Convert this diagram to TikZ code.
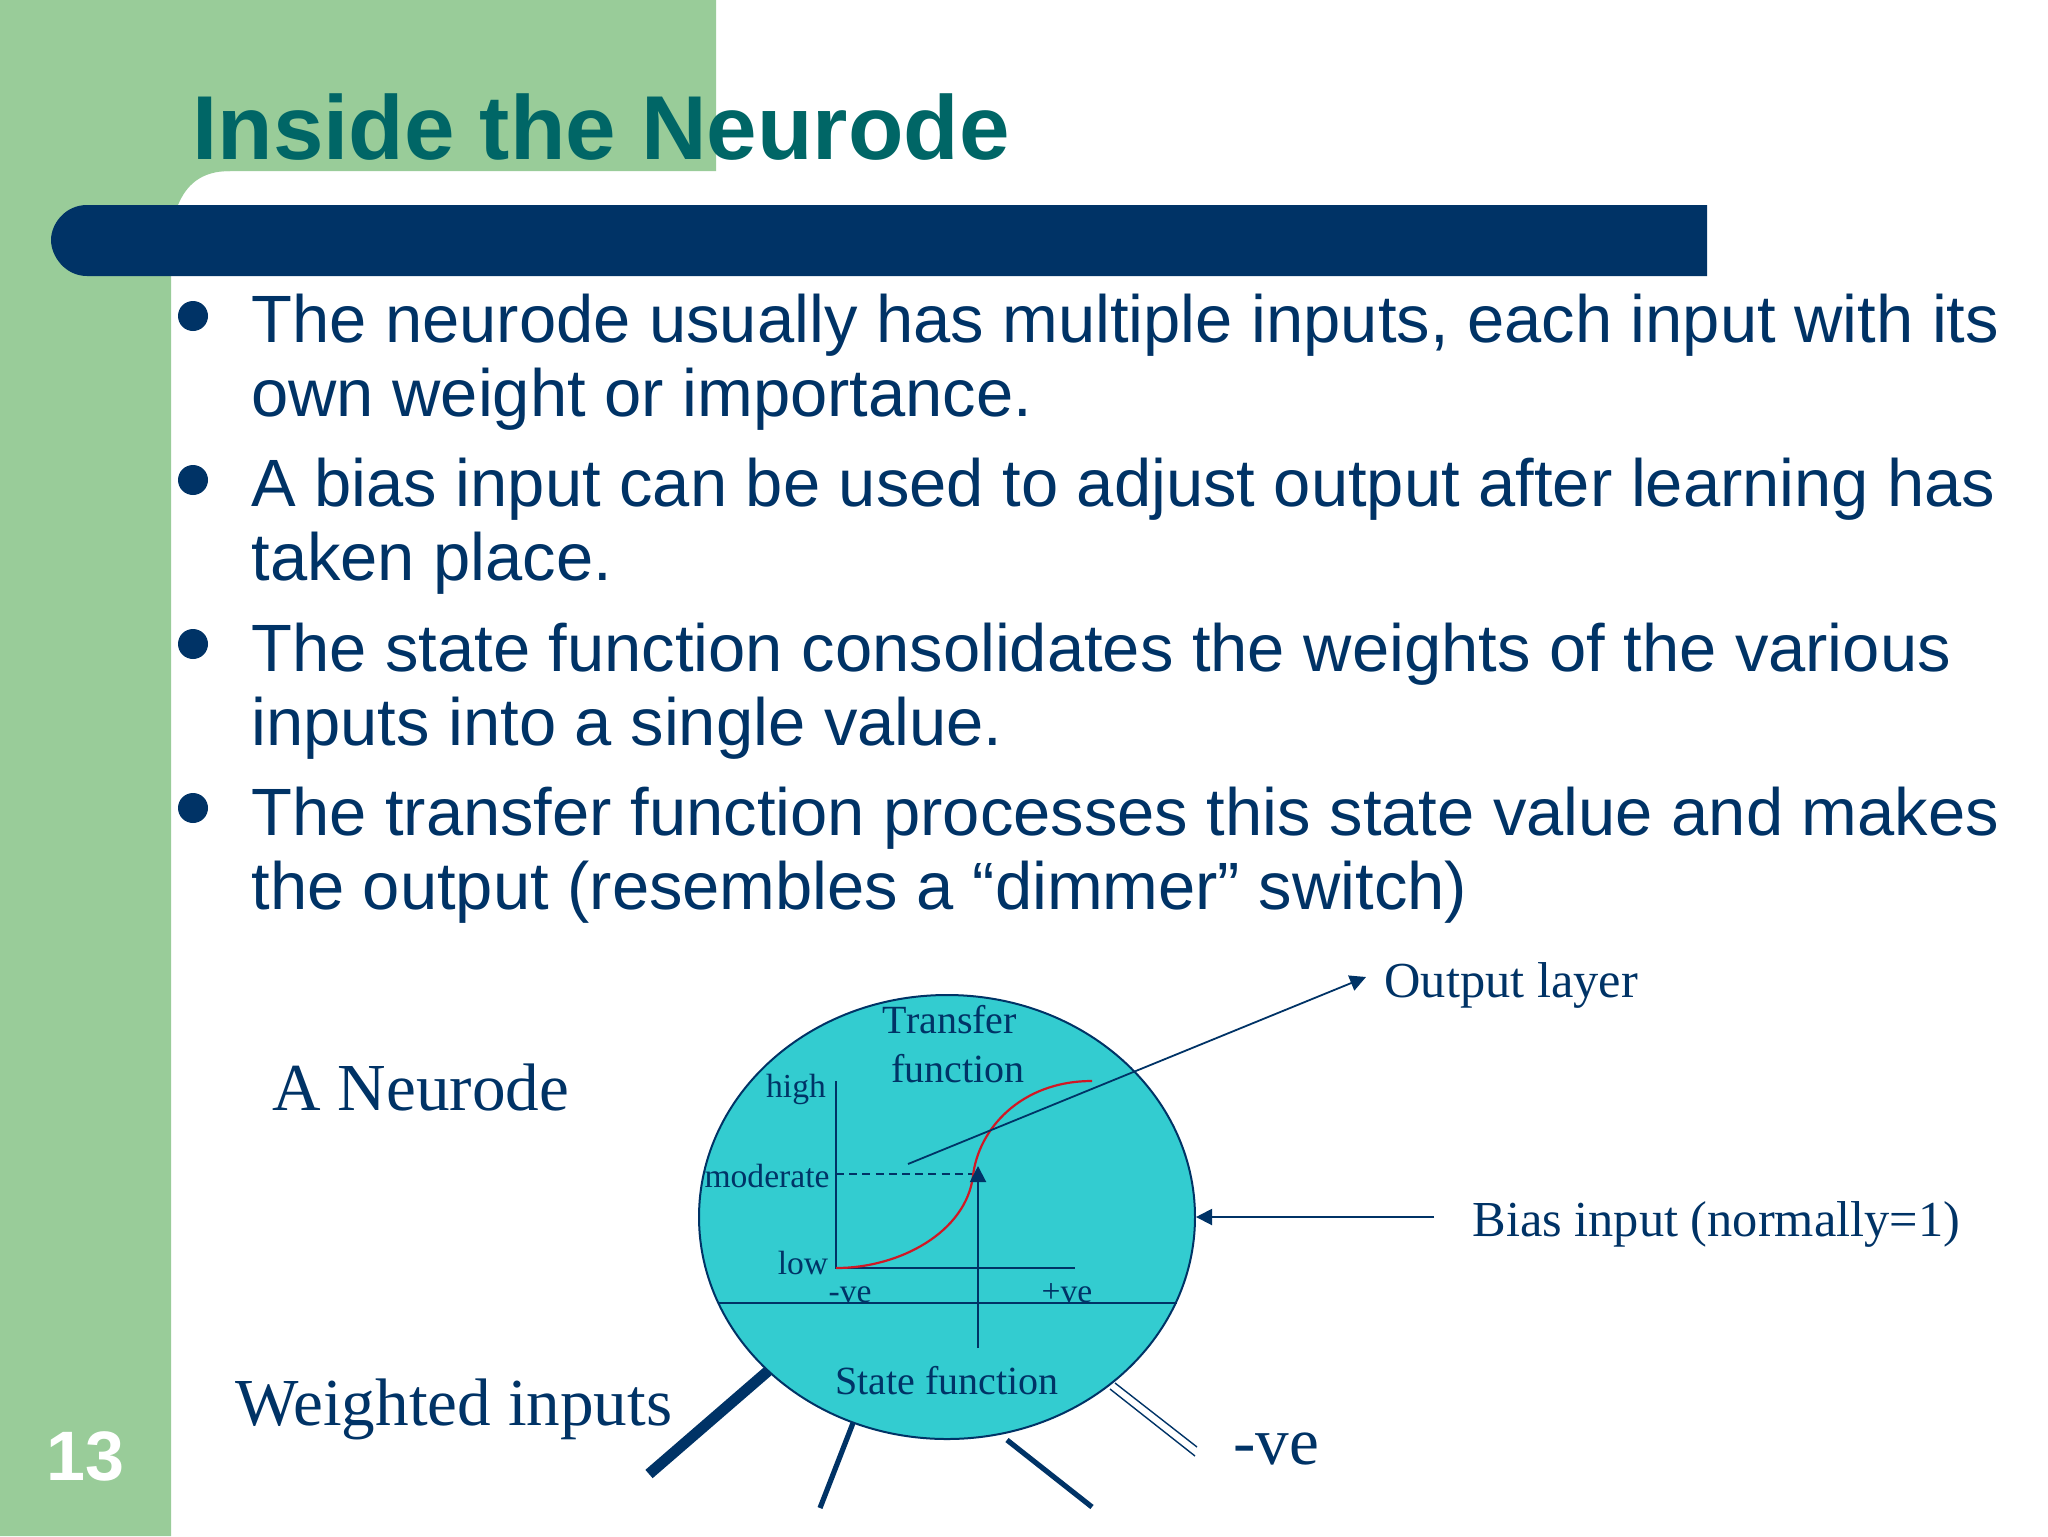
\documentclass[tikz,border=0pt]{standalone}
\usepackage{fontspec}
\setmainfont{Liberation Sans}
\newfontfamily\serifface{Liberation Serif}
\usetikzlibrary{arrows.meta,shapes.geometric}
\definecolor{navy}{HTML}{003366}
\definecolor{leaf}{HTML}{99CC99}
\definecolor{teal}{HTML}{006666}
\definecolor{aqua}{HTML}{33CCD0}
\definecolor{curve}{HTML}{D01825}
\tikzset{
  bodyline/.style={anchor=base west,inner sep=0pt,text=navy,font=\fontsize{33.45}{33.45}\selectfont},
  bulletdot/.style={circle,fill=navy,minimum size=15pt,inner sep=0pt},
  serifbig/.style={anchor=base west,inner sep=0pt,text=navy,font=\serifface\fontsize{33.6}{33.6}\selectfont},
  serifmid/.style={anchor=base west,inner sep=0pt,text=navy,font=\serifface\fontsize{25.2}{25.2}\selectfont},
  inner label/.style={anchor=base,inner sep=0pt,text=navy,font=\serifface\fontsize{20}{20}\selectfont},
  tiny label/.style={anchor=base,inner sep=0pt,text=navy,font=\serifface\fontsize{16.8}{16.8}\selectfont},
  wire/.style={draw=navy,line width=1pt},
  tip/.style={-{Triangle[length=8pt,width=8pt]}},
}
\begin{document}
\begin{tikzpicture}[x=0.5pt,y=-0.5pt]
\useasboundingbox (0,0) rectangle (2048,1536);
\fill[white] (0,0) rectangle (2048,1536);
% green frame
\fill[leaf] (0,0) rectangle (716,171) (0,0) rectangle (171,1536);
\fill[leaf] (171,171) -- (230,171) .. controls (200,171) and (186,186) .. (178,205) -- (171,205) -- cycle;
% bar
\fill[navy] (87,205) -- (1707,205) -- (1707,276) -- (87,276) .. controls (65,276) and (51,256) .. (51,240) .. controls (51,224) and (65,205) .. (87,205) -- cycle;
\node[anchor=base west,inner sep=0pt,text=teal,font=\bfseries\fontsize{45.4}{45.4}\selectfont] (title) at (192,159) {Inside the Neurode};
\node[anchor=base west,inner sep=0pt,text=white,font=\bfseries\fontsize{35}{35}\selectfont] (pageno) at (46,1480) {13};
% bullets
\node[bulletdot] (b1) at (193,316) {};
\node[bulletdot] (b2) at (193,480) {};
\node[bulletdot] (b3) at (193,644) {};
\node[bulletdot] (b4) at (193,808) {};
\node[bodyline] (l1) at (251,342) {The neurode usually has multiple inputs, each input with its};
\node[bodyline] (l2) at (251,416) {own weight or importance.};
\node[bodyline] (l3) at (251,506) {A bias input can be used to adjust output after learning has};
\node[bodyline] (l4) at (251,580) {taken place.};
\node[bodyline] (l5) at (251,671) {The state function consolidates the weights of the various};
\node[bodyline] (l6) at (251,745) {inputs into a single value.};
\node[bodyline] (l7) at (251,835) {The transfer function processes this state value and makes};
\node[bodyline] (l8) at (251,909) {the output (resembles a “dimmer” switch)};
% neurode
\node[ellipse,draw=navy,fill=aqua,line width=1pt,minimum width=248pt,minimum height=222pt,inner sep=0pt] (cell) at (947,1217) {};
\coordinate (axtop) at (836,1081);
\coordinate (axorg) at (836,1268);
\coordinate (axend) at (1075,1268);
\coordinate (dashend) at (974,1174);
\coordinate (dashstart) at (836,1174);
\coordinate (statefoot) at (978,1348);
\coordinate (statetip) at (978,1166);
\coordinate (divl) at (718,1302.5);
\coordinate (divr) at (1177,1302.5);
\coordinate (outs) at (908,1164);
\coordinate (oute) at (1366,977);
\coordinate (bias) at (1434,1217);
\coordinate (in1a) at (768,1371);
\coordinate (in1b) at (649,1474);
\coordinate (in2a) at (853,1423);
\coordinate (in2b) at (820,1508);
\coordinate (in3a) at (1007,1440);
\coordinate (in3b) at (1092,1507);
\coordinate (neg1a) at (1115,1383);
\coordinate (neg1b) at (1197,1447);
\coordinate (neg2a) at (1110,1389);
\coordinate (neg2b) at (1195,1456);
\draw[wire] (divl) -- (divr);
\draw[wire] (axtop) -- (axorg) -- (axend);
\draw[wire,dash pattern=on 4pt off 2.6pt] (dashstart) -- (dashend);
\draw[curve,line width=1.1pt] (axorg) .. controls (900,1268) and (966,1232) .. (973,1176) .. controls (978,1130) and (1020,1081) .. (1092,1081);
\draw[wire,tip] (statefoot) -- (statetip);
\draw[wire,line width=0.9pt,tip] (outs) -- (oute);
\draw[wire,tip] (bias) -- (cell.east);
\draw[navy,line width=5.5pt] (in1a) -- (in1b);
\draw[navy,line width=2.6pt] (in2a) -- (in2b);
\draw[navy,line width=2.6pt] (in3a) -- (in3b);
\draw[navy,line width=0.7pt] (neg1a) -- (neg1b);
\draw[navy,line width=0.7pt] (neg2a) -- (neg2b);
% labels
\node[inner label] (transfer) at (950,1033) {Transfer};
\node[inner label] (func) at (958,1082) {function};
\node[inner label] (state) at (947,1394) {State function};
\node[tiny label] (high) at (796,1097) {high};
\node[tiny label] (moderate) at (767,1187) {moderate};
\node[tiny label] (low) at (803,1274) {low};
\node[tiny label] (neglab) at (850,1302) {-ve};
\node[tiny label] (poslab) at (1067,1302) {+ve};
\node[serifbig] (aneur) at (272,1110) {A Neurode};
\node[serifbig] (winp) at (235,1425) {Weighted inputs};
\node[serifbig] (negve) at (1233,1464) {-ve};
\node[serifmid] (outl) at (1384,997) {Output layer};
\node[serifmid] (biasl) at (1472,1236) {Bias input (normally=1)};
\end{tikzpicture}
\end{document}
